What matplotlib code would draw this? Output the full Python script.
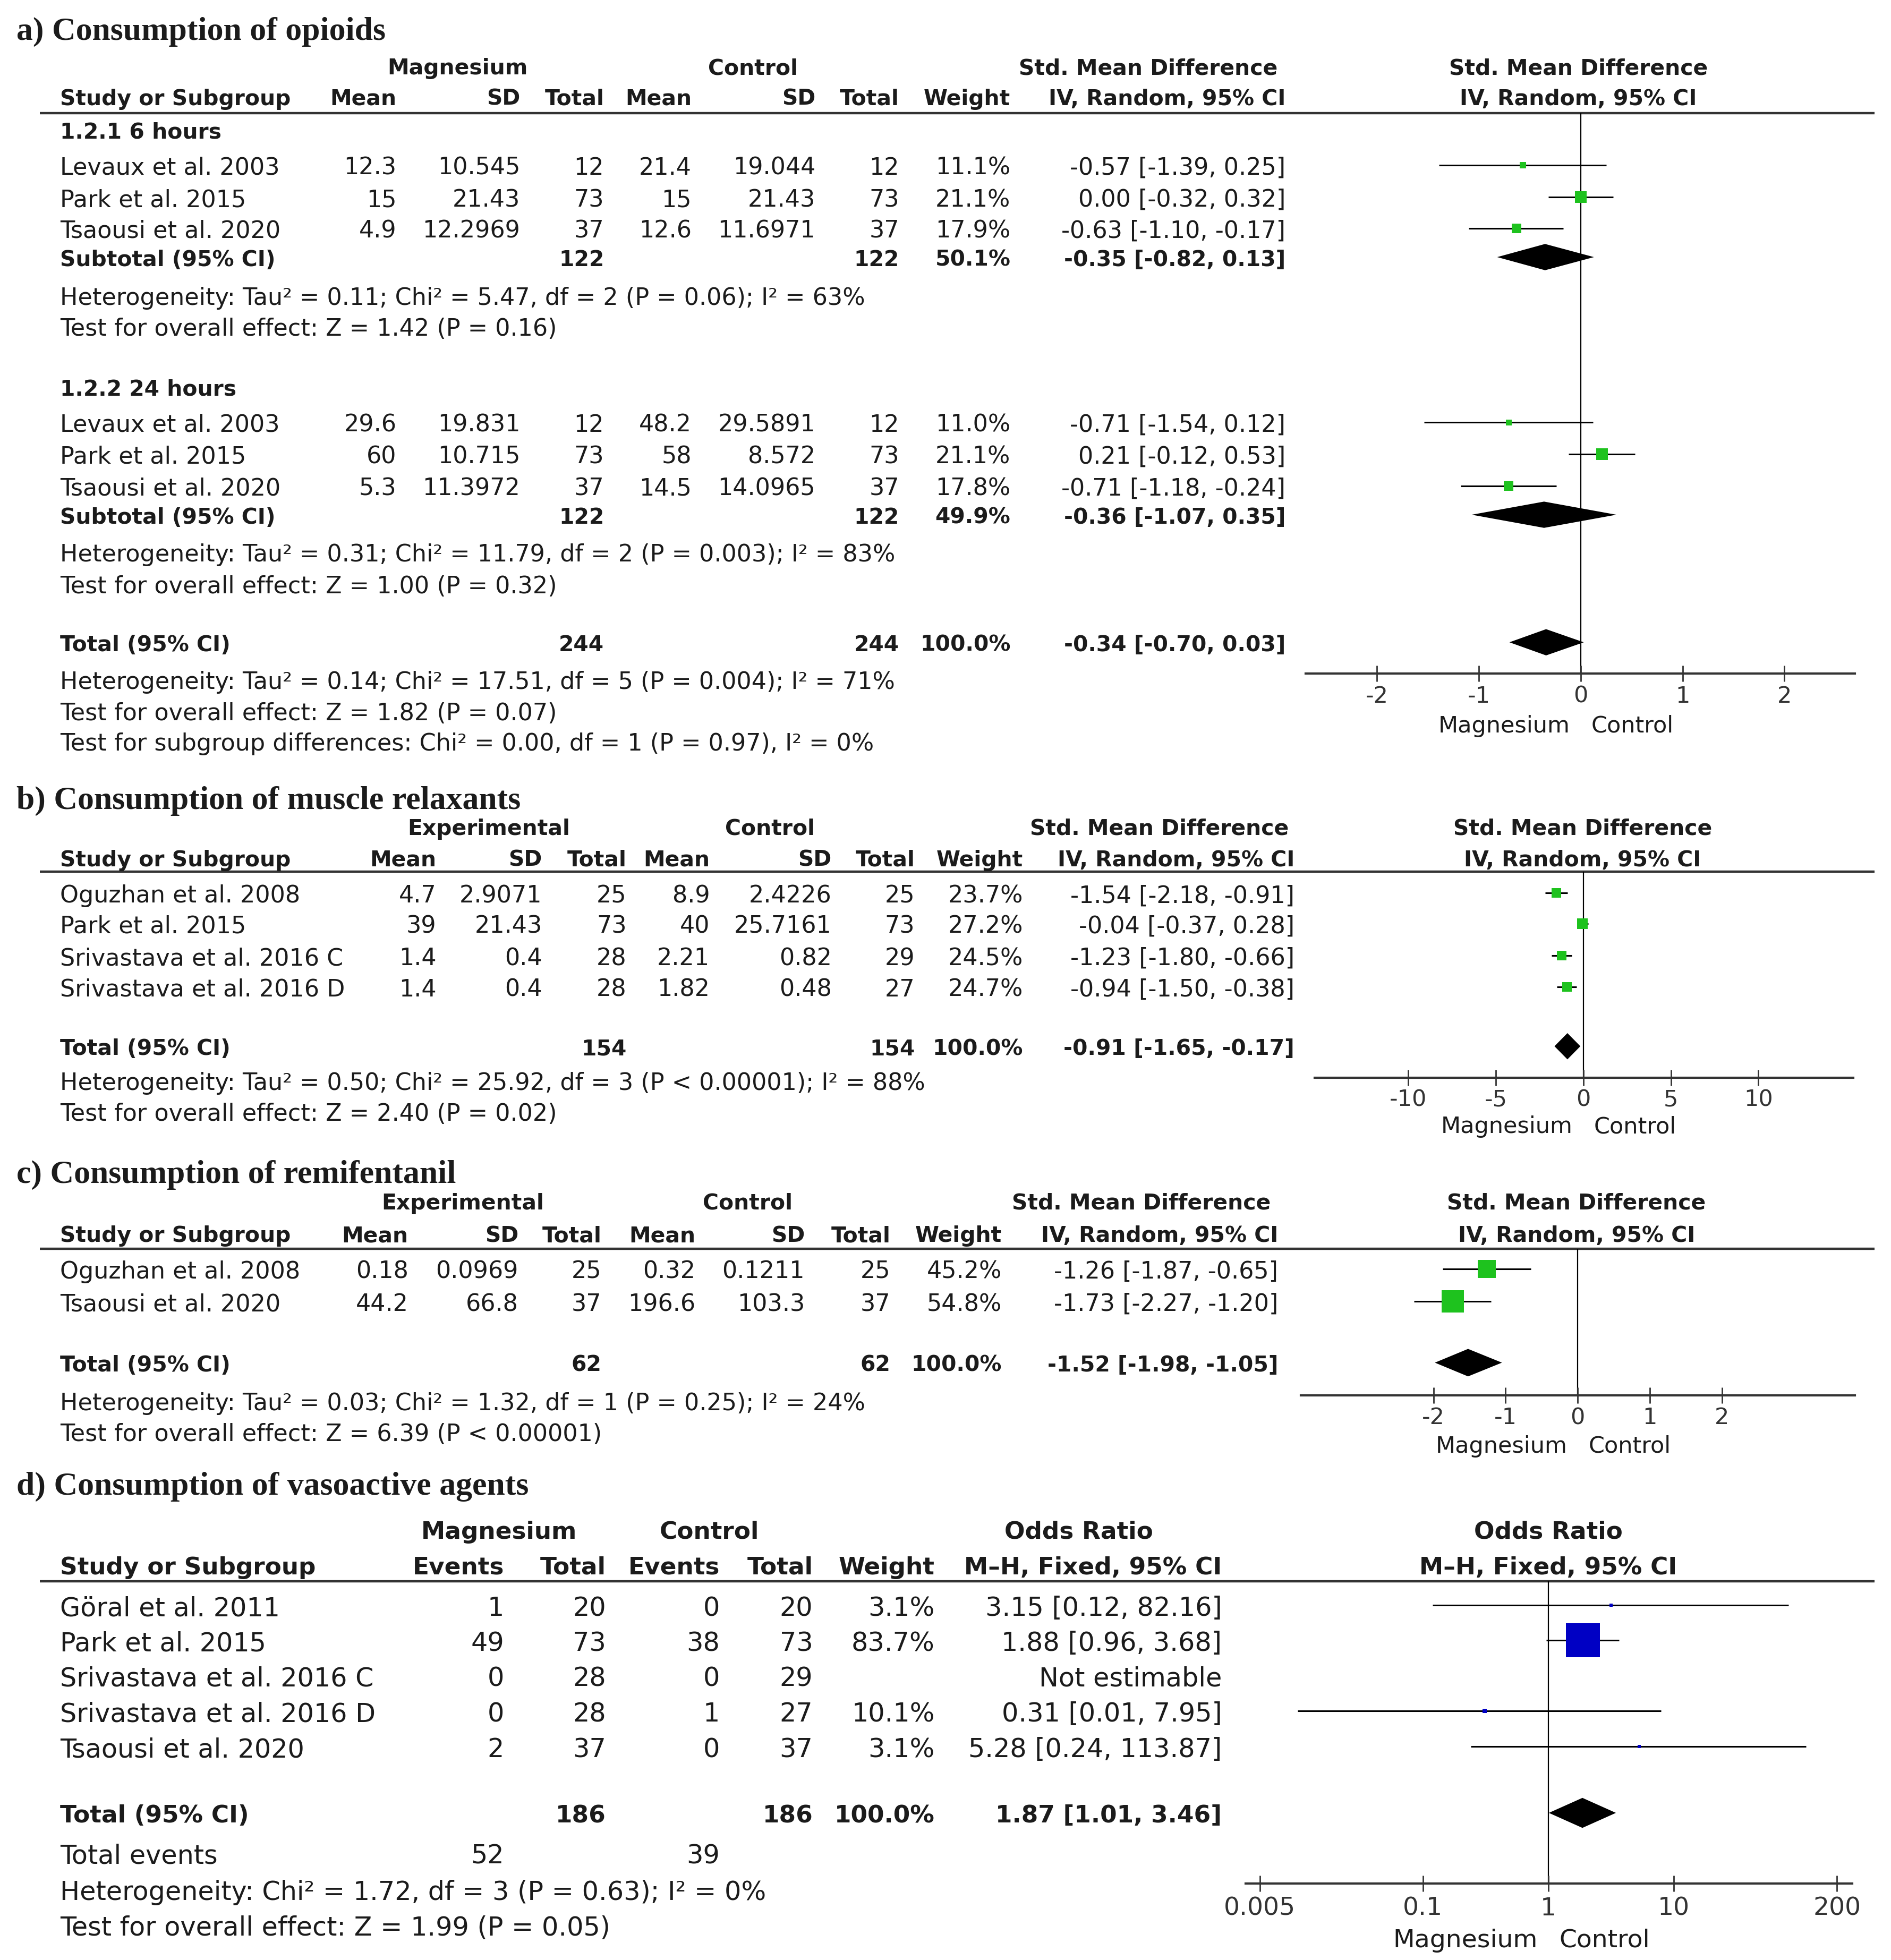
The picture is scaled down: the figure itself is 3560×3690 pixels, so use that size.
import matplotlib
matplotlib.use("Agg")
import matplotlib.pyplot as plt
import numpy as np
from matplotlib.ticker import NullLocator

# ---------------- a) Consumption of opioids ----------------
a_study = ["Levaux et al. 2003", "Park et al. 2015", "Tsaousi et al. 2020"]
a_groups = ["1.2.1 6 hours", "1.2.2 24 hours"]

a6_mg_mean = ["12.3", "15", "4.9"]
a6_mg_sd = ["10.545", "21.43", "12.2969"]
a6_mg_n = [12, 73, 37]
a6_ct_mean = ["21.4", "15", "12.6"]
a6_ct_sd = ["19.044", "21.43", "11.6971"]
a6_ct_n = [12, 73, 37]
a6_weight = [11.1, 21.1, 17.9]
a6_est = [-0.57, 0.00, -0.63]
a6_lo = [-1.39, -0.32, -1.10]
a6_hi = [0.25, 0.32, -0.17]
a6_sub = [-0.35, -0.82, 0.13]
a6_sub_w = 50.1
a6_sub_n = [122, 122]
a6_stats = ["Heterogeneity: Tau² = 0.11; Chi² = 5.47, df = 2 (P = 0.06); I² = 63%",
            "Test for overall effect: Z = 1.42 (P = 0.16)"]

a24_mg_mean = ["29.6", "60", "5.3"]
a24_mg_sd = ["19.831", "10.715", "11.3972"]
a24_mg_n = [12, 73, 37]
a24_ct_mean = ["48.2", "58", "14.5"]
a24_ct_sd = ["29.5891", "8.572", "14.0965"]
a24_ct_n = [12, 73, 37]
a24_weight = [11.0, 21.1, 17.8]
a24_est = [-0.71, 0.21, -0.71]
a24_lo = [-1.54, -0.12, -1.18]
a24_hi = [0.12, 0.53, -0.24]
a24_sub = [-0.36, -1.07, 0.35]
a24_sub_w = 49.9
a24_sub_n = [122, 122]
a24_stats = ["Heterogeneity: Tau² = 0.31; Chi² = 11.79, df = 2 (P = 0.003); I² = 83%",
             "Test for overall effect: Z = 1.00 (P = 0.32)"]

a_total = [-0.34, -0.70, 0.03]
a_total_w = 100.0
a_total_n = [244, 244]
a_stats = ["Heterogeneity: Tau² = 0.14; Chi² = 17.51, df = 5 (P = 0.004); I² = 71%",
           "Test for overall effect: Z = 1.82 (P = 0.07)",
           "Test for subgroup differences: Chi² = 0.00, df = 1 (P = 0.97), I² = 0%"]
a_ticks = [-2, -1, 0, 1, 2]

# ---------------- b) Consumption of muscle relaxants ----------------
b_study = ["Oguzhan et al. 2008", "Park et al. 2015",
           "Srivastava et al. 2016 C", "Srivastava et al. 2016 D"]
b_ex_mean = ["4.7", "39", "1.4", "1.4"]
b_ex_sd = ["2.9071", "21.43", "0.4", "0.4"]
b_ex_n = [25, 73, 28, 28]
b_ct_mean = ["8.9", "40", "2.21", "1.82"]
b_ct_sd = ["2.4226", "25.7161", "0.82", "0.48"]
b_ct_n = [25, 73, 29, 27]
b_weight = [23.7, 27.2, 24.5, 24.7]
b_est = [-1.54, -0.04, -1.23, -0.94]
b_lo = [-2.18, -0.37, -1.80, -1.50]
b_hi = [-0.91, 0.28, -0.66, -0.38]
b_total = [-0.91, -1.65, -0.17]
b_total_w = 100.0
b_total_n = [154, 154]
b_stats = ["Heterogeneity: Tau² = 0.50; Chi² = 25.92, df = 3 (P < 0.00001); I² = 88%",
           "Test for overall effect: Z = 2.40 (P = 0.02)"]
b_ticks = [-10, -5, 0, 5, 10]

# ---------------- c) Consumption of remifentanil ----------------
c_study = ["Oguzhan et al. 2008", "Tsaousi et al. 2020"]
c_ex_mean = ["0.18", "44.2"]
c_ex_sd = ["0.0969", "66.8"]
c_ex_n = [25, 37]
c_ct_mean = ["0.32", "196.6"]
c_ct_sd = ["0.1211", "103.3"]
c_ct_n = [25, 37]
c_weight = [45.2, 54.8]
c_est = [-1.26, -1.73]
c_lo = [-1.87, -2.27]
c_hi = [-0.65, -1.20]
c_total = [-1.52, -1.98, -1.05]
c_total_w = 100.0
c_total_n = [62, 62]
c_stats = ["Heterogeneity: Tau² = 0.03; Chi² = 1.32, df = 1 (P = 0.25); I² = 24%",
           "Test for overall effect: Z = 6.39 (P < 0.00001)"]
c_ticks = [-2, -1, 0, 1, 2]

# ---------------- d) Consumption of vasoactive agents ----------------
d_study = ["Göral et al. 2011", "Park et al. 2015", "Srivastava et al. 2016 C",
           "Srivastava et al. 2016 D", "Tsaousi et al. 2020"]
d_mg_events = [1, 49, 0, 0, 2]
d_mg_n = [20, 73, 28, 28, 37]
d_ct_events = [0, 38, 0, 1, 0]
d_ct_n = [20, 73, 29, 27, 37]
d_weight = [3.1, 83.7, np.nan, 10.1, 3.1]
d_or = [3.15, 1.88, np.nan, 0.31, 5.28]
d_lo = [0.12, 0.96, np.nan, 0.01, 0.24]
d_hi = [82.16, 3.68, np.nan, 7.95, 113.87]
d_total = [1.87, 1.01, 3.46]
d_total_w = 100.0
d_total_n = [186, 186]
d_total_events = [52, 39]
d_stats = ["Heterogeneity: Chi² = 1.72, df = 3 (P = 0.63); I² = 0%",
           "Test for overall effect: Z = 1.99 (P = 0.05)"]
d_ticks = [0.005, 0.1, 1, 10, 200]
d_ticklabels = ["0.005", "0.1", "1", "10", "200"]

# ---------------- figure / layout ----------------
W, H = 3560, 3691
REF_W = 1512.0
K = W / REF_W            # layout below is measured on a 1512-wide copy
REF_H = H / K
PT = 72.0 / 100 * K      # layout unit -> points

INK = "#1b1b1b"
GREEN = "#1ec21e"
BLUE = "#0000c4"
FS = 32          # regular text, panels a-c
FS_D = 35.5      # regular text, panel d
BOLD_K = 0.92    # bold text is drawn a bit smaller (wider face)
TICK_FS = 31
TICK_FS_D = 34
TITLE_FS = 44.5
NAME_X = 48

fig = plt.figure(figsize=(W / 100, H / 100), dpi=100)
fig.patch.set_facecolor("white")
bg = fig.add_axes([0, 0, 1, 1])
bg.set_xlim(0, REF_W)
bg.set_ylim(REF_H, 0)
bg.axis("off")


def put(x, y, s, ha="right", bold=False, fs=FS, family="DejaVu Sans"):
    size = fs * BOLD_K if (bold and family == "DejaVu Sans") else fs
    bg.text(x, y, s, ha=ha, va="center_baseline", fontsize=size, color=INK,
            fontweight="bold" if bold else "normal", family=family)


def ci_text(e, l, h):
    return f"{e:.2f} [{l:.2f}, {h:.2f}]"


def header(title, ty, gnames, gx, gy, cols, labels, hy, ly, rtop, rbot, rx, fs):
    put(13, ty, title, ha="left", bold=True, fs=TITLE_FS, family="Liberation Serif")
    for x, g in zip(gx, gnames):
        put(x, gy, g, ha="center", bold=True, fs=fs)
    put(NAME_X, hy, "Study or Subgroup", ha="left", bold=True, fs=fs)
    for x, lab in zip(cols, labels):
        put(x, hy, lab, bold=True, fs=fs)
    put(rx, gy, rtop, ha="center", bold=True, fs=fs)
    put(rx, hy, rbot, ha="center", bold=True, fs=fs)
    bg.plot([32, 1499], [ly, ly], color="#333333", lw=3.2, solid_capstyle="butt")


def forest(x0, x1, ytop, ybot, xlim, ticks, labels, fs, pad, lab_gap, log=False):
    ax = fig.add_axes([x0 / REF_W, 1 - ybot / REF_H, (x1 - x0) / REF_W, (ybot - ytop) / REF_H])
    ax.patch.set_alpha(0)
    if log:
        ax.set_xscale("log")
    ax.set_xlim(*xlim)
    ax.set_ylim(ybot, ytop)
    for sp in ["left", "right", "top"]:
        ax.spines[sp].set_visible(False)
    ax.spines["bottom"].set_linewidth(3)
    ax.spines["bottom"].set_color("#333333")
    ax.set_yticks([])
    ax.set_xticks(ticks)
    ax.set_xticklabels(labels)
    ax.xaxis.set_minor_locator(NullLocator())
    ax.tick_params(axis="x", direction="inout", length=22, width=2, color="#333333",
                   pad=pad, labelsize=fs, labelcolor="#333333")
    null = 1 if log else 0
    ax.axvline(null, color="black", lw=1.6, zorder=1)
    lab_fs = fs
    ax.annotate("Magnesium", xy=(null, 0), xycoords=("data", "axes fraction"),
                xytext=(-8.5 * PT, -lab_gap * PT), textcoords="offset points",
                ha="right", va="center_baseline", fontsize=lab_fs, color=INK)
    ax.annotate("Control", xy=(null, 0), xycoords=("data", "axes fraction"),
                xytext=(8.5 * PT, -lab_gap * PT), textcoords="offset points",
                ha="left", va="center_baseline", fontsize=lab_fs, color=INK)
    return ax


def square(ax, e, l, h, y, w, color, k):
    # box side grows with the study weight
    ax.plot([l, h], [y, y], color="black", lw=2.2, solid_capstyle="butt", zorder=2)
    ax.plot(e, y, marker="s", ms=max(k * w, 4.0), color=color, mew=0, zorder=3)


def diamond(ax, e, l, h, y, half):
    ax.fill([l, e, h, e], [y, y - half, y, y + half], color="black", lw=0, zorder=3)


def cont_rows(ax, ys, cols, names, m1, s1, n1, m2, s2, n2, w, e, l, h, k):
    for i, y in enumerate(ys):
        put(NAME_X, y, names[i], ha="left")
        vals = [m1[i], s1[i], n1[i], m2[i], s2[i], n2[i], f"{w[i]:.1f}%"]
        for x, v in zip(cols[:7], vals):
            put(x, y, str(v))
        put(cols[7], y, ci_text(e[i], l[i], h[i]))
        square(ax, e[i], l[i], h[i], y, w[i], GREEN, k)


def pooled_row(ax, y, label, xn, n, xw, w, xci, est, half, fs=FS):
    put(NAME_X, y, label, ha="left", bold=True, fs=fs)
    put(xn[0], y, str(n[0]), bold=True, fs=fs)
    put(xn[1], y, str(n[1]), bold=True, fs=fs)
    put(xw, y, f"{w:.1f}%", bold=True, fs=fs)
    put(xci, y, ci_text(*est), bold=True, fs=fs)
    diamond(ax, est[0], est[1], est[2], y, half)


cont_labels = ["Mean", "SD", "Total", "Mean", "SD", "Total", "Weight", "IV, Random, 95% CI"]

# ---- panel a ----
cols = [317, 416, 483, 553, 652, 719, 808, 1028]
header("a) Consumption of opioids", 22.5, ["Magnesium", "Control", "Std. Mean Difference"],
       [366, 602, 918], 53, cols, cont_labels, 77.5, 91,
       "Std. Mean Difference", "IV, Random, 95% CI", 1262, FS)
ax = forest(1044, 1483, 91, 539, (-2.70, 2.69), a_ticks, [str(t) for t in a_ticks],
            TICK_FS, 4.0, 39.5)
put(NAME_X, 104, a_groups[0], ha="left", bold=True)
cont_rows(ax, [132.5, 158, 183], cols, a_study, a6_mg_mean, a6_mg_sd, a6_mg_n,
          a6_ct_mean, a6_ct_sd, a6_ct_n, a6_weight, a6_est, a6_lo, a6_hi, 0.72)
pooled_row(ax, 206, "Subtotal (95% CI)", (cols[2], cols[5]), a6_sub_n, cols[6], a6_sub_w,
           cols[7], a6_sub, 10.5)
put(NAME_X, 236.5, a6_stats[0], ha="left")
put(NAME_X, 261, a6_stats[1], ha="left")
put(NAME_X, 309.5, a_groups[1], ha="left", bold=True)
cont_rows(ax, [338, 363.5, 389], cols, a_study, a24_mg_mean, a24_mg_sd, a24_mg_n,
          a24_ct_mean, a24_ct_sd, a24_ct_n, a24_weight, a24_est, a24_lo, a24_hi, 0.72)
pooled_row(ax, 412, "Subtotal (95% CI)", (cols[2], cols[5]), a24_sub_n, cols[6], a24_sub_w,
           cols[7], a24_sub, 10.5)
put(NAME_X, 441.5, a24_stats[0], ha="left")
put(NAME_X, 467, a24_stats[1], ha="left")
pooled_row(ax, 514, "Total (95% CI)", (cols[2], cols[5]), a_total_n, cols[6], a_total_w,
           cols[7], a_total, 10.5)
for y, s in zip([543.5, 568.5, 593], a_stats):
    put(NAME_X, y, s, ha="left")

# ---- panel b ----
cols = [349, 433.5, 501, 567.5, 665, 731.5, 818, 1035]
header("b) Consumption of muscle relaxants", 637.5, ["Experimental", "Control", "Std. Mean Difference"],
       [391, 615.5, 927], 661, cols, cont_labels, 686, 697.5,
       "Std. Mean Difference", "IV, Random, 95% CI", 1265.5, FS)
ax = forest(1051, 1482, 697.5, 862, (-15.36, 15.43), b_ticks, [str(t) for t in b_ticks],
            TICK_FS, 3.0, 37)
cont_rows(ax, [714.5, 739, 764.5, 789.5], cols, b_study, b_ex_mean, b_ex_sd, b_ex_n,
          b_ct_mean, b_ct_sd, b_ct_n, b_weight, b_est, b_lo, b_hi, 0.547)
pooled_row(ax, 837, "Total (95% CI)", (cols[2], cols[5]), b_total_n, cols[6], b_total_w,
           cols[7], b_total, 10.5)
put(NAME_X, 864.5, b_stats[0], ha="left")
put(NAME_X, 889, b_stats[1], ha="left")

# ---- panel c ----
cols = [326.5, 414.5, 481, 556, 643.5, 712, 801, 1022]
header("c) Consumption of remifentanil", 936.5, ["Experimental", "Control", "Std. Mean Difference"],
       [370, 598, 912.5], 960.5, cols, cont_labels, 986.5, 999,
       "Std. Mean Difference", "IV, Random, 95% CI", 1260.5, FS)
ax = forest(1040, 1483, 999, 1116, (-3.84, 3.84), c_ticks, [str(t) for t in c_ticks],
            TICK_FS, 4.0, 38.5)
cont_rows(ax, [1015, 1041], cols, c_study, c_ex_mean, c_ex_sd, c_ex_n,
          c_ct_mean, c_ct_sd, c_ct_n, c_weight, c_est, c_lo, c_hi, 0.547)
pooled_row(ax, 1090, "Total (95% CI)", (cols[2], cols[5]), c_total_n, cols[6], c_total_w,
           cols[7], c_total, 11)
put(NAME_X, 1120.5, c_stats[0], ha="left")
put(NAME_X, 1145, c_stats[1], ha="left")

# ---- panel d ----
cols = [403, 484.5, 575.5, 650, 747.5, 977]
header("d) Consumption of vasoactive agents", 1186, ["Magnesium", "Control", "Odds Ratio"],
       [399, 567, 862.5], 1223, cols,
       ["Events", "Total", "Events", "Total", "Weight", "M\u2013H, Fixed, 95% CI"], 1251.5, 1265,
       "Odds Ratio", "M\u2013H, Fixed, 95% CI", 1238, FS_D)
ax = forest(996, 1481, 1265, 1506.5, (10 ** -2.413, 10 ** 2.423), d_ticks, d_ticklabels,
            TICK_FS_D, 6.0, 43, log=True)
for i, y in enumerate([1284, 1312, 1340, 1368.5, 1397]):
    put(NAME_X, y, d_study[i], ha="left", fs=FS_D)
    for x, v in zip(cols[:4], [d_mg_events[i], d_mg_n[i], d_ct_events[i], d_ct_n[i]]):
        put(x, y, str(v), fs=FS_D)
    if np.isnan(d_or[i]):
        put(cols[5], y, "Not estimable", fs=FS_D)
        continue
    put(cols[4], y, f"{d_weight[i]:.1f}%", fs=FS_D)
    put(cols[5], y, ci_text(d_or[i], d_lo[i], d_hi[i]), fs=FS_D)
    square(ax, d_or[i], d_lo[i], d_hi[i], y, d_weight[i], BLUE, 0.547)
pooled_row(ax, 1450, "Total (95% CI)", (cols[1], cols[3]), d_total_n, cols[4], d_total_w,
           cols[5], d_total, 12, fs=FS_D)
put(NAME_X, 1482, "Total events", ha="left", fs=FS_D)
put(cols[0], 1482, str(d_total_events[0]), fs=FS_D)
put(cols[2], 1482, str(d_total_events[1]), fs=FS_D)
put(NAME_X, 1511, d_stats[0], ha="left", fs=FS_D)
put(NAME_X, 1539.5, d_stats[1], ha="left", fs=FS_D)

fig.savefig("out.png", dpi=100, facecolor="white")
